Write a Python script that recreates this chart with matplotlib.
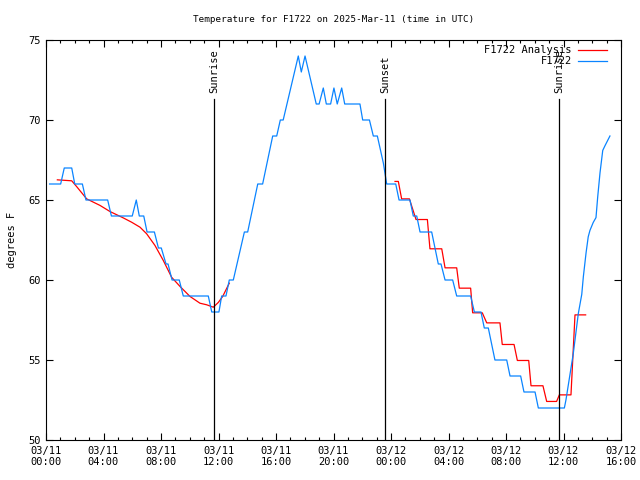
import numpy as np
import matplotlib
matplotlib.use("Agg")
import matplotlib.pyplot as plt

# hours since 2025-03-11 00:00 UTC
obs_hours = [0.25, 1.02, 1.27, 1.79, 2.0, 2.53, 2.78, 4.29, 4.55, 6.0, 6.28, 6.49,
             6.8, 7.03, 7.54, 7.82, 8.02, 8.35, 8.49, 8.77, 9.27, 9.55, 11.29, 11.53,
             12.03, 12.22, 12.52, 12.75, 13.03, 13.8, 14.03, 14.73, 15.07, 15.77,
             16.05, 16.3, 16.5, 17.55, 17.76, 18.02, 18.8, 19.0, 19.29, 19.5, 19.8,
             20.03, 20.26, 20.57, 20.78, 21.84, 22.03, 22.5, 22.77, 23.05, 23.47,
             23.7, 24.33, 24.56, 25.32, 25.55, 25.79, 26.02, 26.83, 27.29, 27.48,
             27.76, 28.29, 28.57, 29.54, 29.8, 30.26, 30.49, 30.77, 31.23, 32.05,
             32.28, 33.02, 33.25, 34.02, 34.25, 36.06, 36.17, 36.68, 37.03, 37.27,
             37.38, 37.57, 37.72, 37.84, 38.07, 38.26, 38.38, 38.54, 38.73, 38.89, 39.23]
obs_temps = [66, 66, 67, 67, 66, 66, 65, 65, 64, 64, 65, 64,
             64, 63, 63, 62, 62, 61, 61, 60, 60, 59, 59, 58,
             58, 59, 59, 60, 60, 63, 63, 66, 66, 69,
             69, 70, 70, 74, 73, 74, 71, 71, 72, 71, 71,
             72, 71, 72, 71, 71, 70, 70, 69, 69, 67.3,
             66, 66, 65, 65, 64, 64, 63, 63, 61, 61,
             60, 60, 59, 59, 58, 58, 57, 57, 55, 55,
             54, 54, 53, 53, 52, 52, 52.5, 55.4, 57.9, 59.1,
             60.2, 61.7, 62.7, 63.1, 63.6, 63.9, 65.2, 66.7, 68.1, 68.4, 69.0]

ana_hours = [0.79, 1.79, 2.13, 2.83, 3.76, 4.45, 5.38, 5.96, 6.54, 7.0, 7.58, 8.16,
             8.74, 9.32, 10.02, 10.71, 11.18, 11.64, 11.99, 12.29, 12.61, 12.75,
             np.nan,
             24.28, 24.51, 24.74, 25.28, 25.74, 26.53, 26.71, 27.53, 27.76, 28.57,
             28.75, 29.54, 29.68, 30.35, 30.66, 31.58, 31.74, 32.56, 32.79, 33.58,
             33.74, 34.57, 34.83, 35.52, 35.71, 36.52, 36.8, 37.54]
ana_temps = [66.26, 66.2, 65.84, 65.07, 64.66, 64.28, 63.88, 63.61, 63.3, 62.89, 62.16, 61.22,
             60.17, 59.6, 58.97, 58.55, 58.45, 58.3, 58.6, 58.97, 59.55, 59.8,
             np.nan,
             66.16, 66.16, 65.07, 65.07, 63.78, 63.78, 61.95, 61.95, 60.76, 60.76,
             59.49, 59.49, 57.95, 57.95, 57.32, 57.32, 55.97, 55.97, 54.97, 54.97,
             53.39, 53.39, 52.41, 52.41, 52.82, 52.82, 57.82, 57.82]

sun_hours = [11.69, 23.58, 35.7]
sun_labels = ["Sunrise", "Sunset", "Sunrise"]

xtick_hours = [0, 4, 8, 12, 16, 20, 24, 28, 32, 36, 40]
xtick_labels = ["03/11\n00:00", "03/11\n04:00", "03/11\n08:00", "03/11\n12:00",
                "03/11\n16:00", "03/11\n20:00", "03/12\n00:00", "03/12\n04:00",
                "03/12\n08:00", "03/12\n12:00", "03/12\n16:00"]
ytick_vals = [50, 55, 60, 65, 70, 75]

font = "DejaVu Sans Mono"
fs = 7.5

fig = plt.figure(figsize=(6.4, 4.8), dpi=100)
ax = fig.add_axes([46 / 640, 40 / 480, 575 / 640, 400 / 480])

ax.plot(ana_hours, ana_temps, color="#ff0000", lw=0.9, label="F1722 Analysis")
ax.plot(obs_hours, obs_temps, color="#0a84ff", lw=0.9, label="F1722")

for h, lab in zip(sun_hours, sun_labels):
    ax.axvline(h, ymin=0, ymax=(440 - 99) / 400, color="black", lw=0.9)
    ax.text(h, 0.868, lab, transform=ax.get_xaxis_transform(), rotation=90,
            ha="center", va="bottom", fontsize=fs, family=font)

ax.set_xlim(0, 40)
ax.set_ylim(50, 75)
ax.set_xticks(xtick_hours)
ax.set_xticklabels(xtick_labels, family=font, fontsize=fs)
ax.set_xticks(np.arange(0, 41, 1), minor=True)
ax.set_yticks(ytick_vals)
ax.set_yticklabels([str(v) for v in ytick_vals], family=font, fontsize=fs)
ax.tick_params(which="both", direction="in", top=True, right=True, width=0.8)
ax.tick_params(which="major", length=5, pad=4)
ax.tick_params(which="minor", length=2.5)
for s in ax.spines.values():
    s.set_linewidth(0.8)

ax.set_ylabel("degrees F", family=font, fontsize=fs, labelpad=8)
ax.set_title("Temperature for F1722 on 2025-Mar-11 (time in UTC)", family=font,
             fontsize=6.7, pad=13)

leg = ax.legend(loc="upper right", frameon=False, markerfirst=False,
                prop={"family": font, "size": fs}, handlelength=2.8,
                labelspacing=0.1, borderaxespad=0.1, handletextpad=0.6,
                bbox_to_anchor=(0.985, 1.0))
for t in leg.get_texts():
    t.set_ha("right")

fig.savefig("out.png", dpi=100)
